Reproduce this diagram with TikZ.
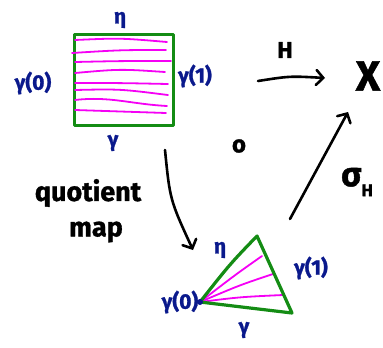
\documentclass[tikz,border=0pt]{standalone}
\usepackage{fontspec}
\setmainfont{Fira Sans}[BoldFeatures={FakeBold=1.2}]
\usetikzlibrary{arrows.meta}
\definecolor{gblue}{RGB}{10,25,140}
\definecolor{ggreen}{RGB}{20,140,20}
\definecolor{gmag}{RGB}{245,0,245}
\begin{document}
\begin{tikzpicture}[x=1pt,y=-1pt,
  lbl/.style={text=gblue, font=\fontsize{21}{21}\selectfont\bfseries, inner sep=0},
  txt/.style={font=\fontsize{27}{27}\selectfont\bfseries, inner sep=0},
  edge/.style={draw=ggreen, line width=3.2pt, line join=round},
  fib/.style={draw=gmag, line width=1.8pt, line cap=round},
  arr/.style={line width=2.6pt, line cap=round, -{Straight Barb[length=7pt,width=15pt,line cap=round]}}]
\useasboundingbox (0,0) rectangle (383,348);
% square
\node[edge, minimum width=99pt, minimum height=91pt, inner sep=0, anchor=north west] (sq) at (73,33) {};
\draw[fib] (75,40) .. controls (120,38) .. (167,42);
\draw[fib] (72,53) .. controls (120,50) .. (166,50);
\draw[fib] (75,62) .. controls (120,61) .. (171,61);
\draw[fib] (75,73) .. controls (120,69) .. (165,72);
\draw[fib] (75,83) .. controls (120,83) .. (168,84);
\draw[fib] (75,90) .. controls (120,89) .. (168,95);
\draw[fib] (75,100) .. controls (110,96) and (130,104) .. (167,106);
\draw[fib] (75,110) .. controls (120,111) .. (166,113);
% square labels
\node[lbl] (eta1) at (120,20) {η};
\node[lbl] (g0a) at (33,83) {γ(0)};
\node[lbl] (g1a) at (195,76) {γ(1)};
\node[lbl] (ga) at (113,143) {γ};
% X and H
\node[txt, font=\fontsize{42}{42}\selectfont\bfseries] (X) at (368,76) {X};
\node[txt, font=\fontsize{23}{23}\selectfont\bfseries] (Hl) at (285,50) {H};
\coordinate (h1) at (258,81);
\coordinate (h2) at (325,78);
\draw[arr] (h1) .. controls (290,76) .. (h2);
% circle o
\node[txt, font=\fontsize{24}{24}\selectfont\bfseries] (o) at (239,146) {o};
% quotient map
\node[txt] (q) at (88,193) {quotient};
\node[txt] (m) at (96,232) {map};
\coordinate (d1) at (165,150);
\coordinate (d2) at (193,250);
\draw[arr] (d1) .. controls (170,200) .. (d2);
% sigma
\coordinate (s1) at (290,219);
\coordinate (s2) at (348,112);
\draw[arr] (s1) -- (s2);
\node[txt, font=\fontsize{34}{34}\selectfont\bfseries] (sig) at (357,182) {σ\raisebox{-10pt}{\fontsize{17}{17}\selectfont\bfseries H}};
% triangle
\coordinate (tl) at (200,302);
\coordinate (tt) at (257,236);
\coordinate (tr) at (292,313);
\draw[fib] (tl) .. controls (235,275) .. (262,256);
\draw[fib] (tl) .. controls (240,285) .. (273,274);
\draw[fib] (tl) .. controls (240,297) .. (283,295);
\draw[edge] (tl) .. controls (230,264) .. (tt) -- (tr) .. controls (250,308) .. (tl);
\fill[gblue] (tl) circle (3pt);
\node[lbl] (eta2) at (220,250) {η};
\node[lbl] (g1b) at (311,268) {γ(1)};
\node[lbl] (g0b) at (180,302) {γ(0)};
\node[lbl] (gb) at (244,330) {γ};
\end{tikzpicture}
\end{document}
